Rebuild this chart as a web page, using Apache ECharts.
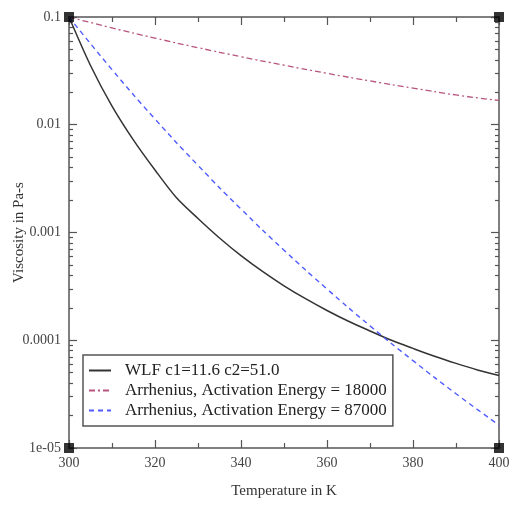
<!DOCTYPE html>
<html>
<head>
<meta charset="utf-8">
<script src="https://cdn.jsdelivr.net/npm/echarts@6/dist/echarts.min.js"></script>
<style>
  html, body { margin: 0; padding: 0; background: #fff; }
  #chart { width: 512px; height: 508px; }
</style>
</head>
<body>
<div id="chart"></div>
<script>
// temperatures (K) and viscosities (Pa-s)
var wlfT = [300, 305, 310, 315, 320, 325, 330, 335, 340, 345, 350, 355, 360, 365, 370, 375, 380, 385, 390, 395, 400]
var wlfVisc = [0.1, 0.0355, 0.0149, 0.0072, 0.0038, 0.0021, 0.00135, 0.00089, 0.00061, 0.000435, 0.00032,
  0.000243, 0.000189, 0.00015, 0.000122, 0.0001, 0.000084, 0.000071, 0.000061, 0.000053, 0.000047]
var arrT = [300, 310, 320, 330, 340, 350, 360, 370, 380, 390, 400]
var arr18000 = [0.1, 0.0792, 0.0637, 0.0519, 0.0428, 0.0357, 0.030, 0.0255, 0.0219, 0.0189, 0.0168]
var arr87000 = [0.1, 0.0325, 0.0113, 0.0042, 0.00165, 0.000685, 0.000299, 0.000136, 0.0000647, 0.0000319, 0.0000163]
var yTickLabels = { '0.1': '0.1', '0.01': '0.01', '0.001': '0.001', '0.0001': '0.0001', '0.00001': '1e-05' }
var corners = [[300, 0.1], [400, 0.1], [300, 0.00001], [400, 0.00001]]

function pairs (xs, ys) {
  return xs.map(function (x, i) { return [x, ys[i]] })
}

var font = 'Liberation Serif'
var axisColor = '#555'

function xAxis (pos, showLabel) {
  return {
    type: 'value',
    position: pos,
    min: 300,
    max: 400,
    interval: 20,
    name: showLabel ? 'Temperature in K' : '',
    nameLocation: 'middle',
    nameGap: 36,
    nameMoveOverlap: false,
    nameTextStyle: { fontFamily: font, fontSize: 15, color: '#333' },
    axisLine: { lineStyle: { color: axisColor, width: 1.5 } },
    axisTick: { inside: true, length: 8, lineStyle: { color: axisColor, width: 1.2 } },
    minorTick: { show: true, splitNumber: 2, length: 5, lineStyle: { color: axisColor, width: 1.2 } },
    axisLabel: { show: showLabel, margin: 8, fontFamily: font, fontSize: 14, color: '#444' },
    splitLine: { show: false }
  }
}

function yAxis (pos, showLabel) {
  return {
    type: 'log',
    position: pos,
    min: 0.00001,
    max: 0.1,
    logBase: 10,
    name: showLabel ? 'Viscosity in Pa-s' : '',
    nameLocation: 'middle',
    nameGap: 42,
    nameMoveOverlap: false,
    nameTextStyle: { fontFamily: font, fontSize: 15, color: '#333' },
    axisLine: { lineStyle: { color: axisColor, width: 1.5 } },
    axisTick: { inside: true, length: 8, lineStyle: { color: axisColor, width: 1.2 } },
    minorTick: { show: true, splitNumber: 9, length: 4, lineStyle: { color: axisColor, width: 1.2 } },
    axisLabel: {
      show: showLabel, margin: 8, fontFamily: font, fontSize: 14, color: '#444',
      formatter: function (v) {
        var k = String(+v.toPrecision(3))
        if (v < 0.00005) k = '0.00001'
        return yTickLabels[k] !== undefined ? yTickLabels[k] : ''
      }
    },
    splitLine: { show: false }
  }
}

var chart = echarts.init(document.getElementById('chart'))
chart.setOption({
  animation: false,
  backgroundColor: '#fff',
  grid: { left: 69, right: 13, top: 17, bottom: 60, outerBoundsMode: 'none', containLabel: false },
  xAxis: [xAxis('bottom', true), xAxis('top', false)],
  yAxis: [yAxis('left', true), yAxis('right', false)],
  legend: {
    orient: 'vertical',
    left: 83,
    top: 355,
    padding: [7, 6, 7, 5],
    itemWidth: 22,
    itemHeight: 14,
    itemGap: 3,
    borderColor: '#555',
    borderWidth: 1.5,
    itemStyle: { opacity: 0 },
    textStyle: { fontFamily: font, fontSize: 17, color: '#222', padding: [0, 0, 0, 9] },
    data: ['WLF c1=11.6 c2=51.0', 'Arrhenius, Activation Energy = 18000', 'Arrhenius, Activation Energy = 87000']
  },
  series: [
    {
      name: 'WLF c1=11.6 c2=51.0',
      type: 'line',
      symbol: 'none',
      smooth: 0.3,
      data: pairs(wlfT, wlfVisc),
      lineStyle: { color: '#333', width: 1.5 },
      itemStyle: { color: '#333' }
    },
    {
      name: 'Arrhenius, Activation Energy = 18000',
      type: 'line',
      symbol: 'none',
      smooth: true,
      data: pairs(arrT, arr18000),
      lineStyle: { color: '#b8557f', width: 1.3, type: [6, 3, 2, 3] },
      itemStyle: { color: '#b8557f' }
    },
    {
      name: 'Arrhenius, Activation Energy = 87000',
      type: 'line',
      symbol: 'none',
      smooth: true,
      data: pairs(arrT, arr87000),
      lineStyle: { color: '#4f5cff', width: 1.4, type: [5, 4] },
      itemStyle: { color: '#4f5cff' }
    },
    {
      type: 'scatter',
      symbol: 'rect',
      symbolSize: 10,
      clip: false,
      silent: true,
      data: corners,
      itemStyle: { color: '#000' },
      z: 5
    }
  ]
})
</script>
</body>
</html>
